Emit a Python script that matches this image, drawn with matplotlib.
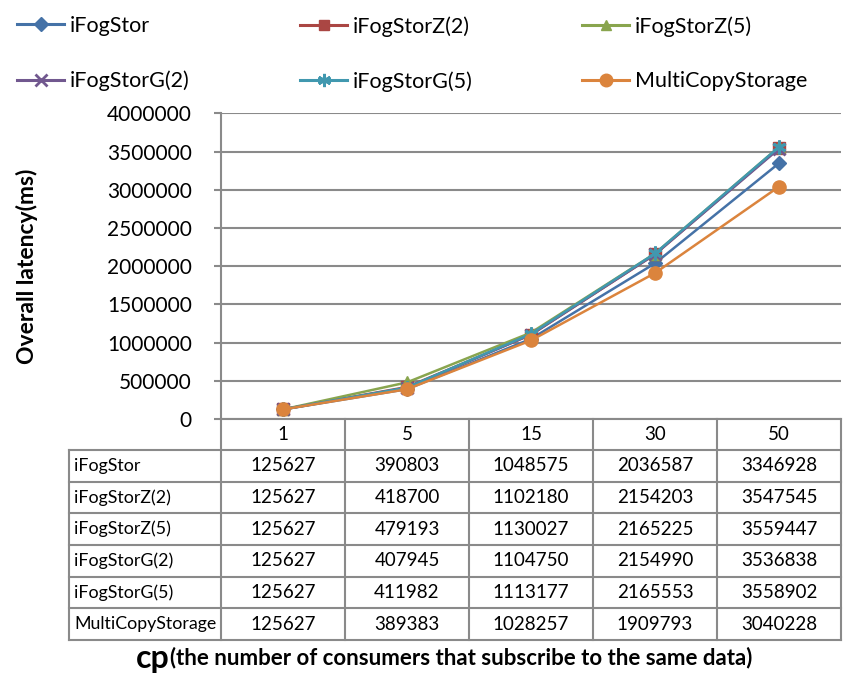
import matplotlib.pyplot as plt
from matplotlib.lines import Line2D

# === DATA ===
cp_values = ['1', '5', '15', '30', '50']
series_names = ['iFogStor', 'iFogStorZ(2)', 'iFogStorZ(5)',
                'iFogStorG(2)', 'iFogStorG(5)', 'MultiCopyStorage']
ifogstor = [125627, 390803, 1048575, 2036587, 3346928]
ifogstor_z2 = [125627, 418700, 1102180, 2154203, 3547545]
ifogstor_z5 = [125627, 479193, 1130027, 2165225, 3559447]
ifogstor_g2 = [125627, 407945, 1104750, 2154990, 3536838]
ifogstor_g5 = [125627, 411982, 1113177, 2165553, 3558902]
multicopy = [125627, 389383, 1028257, 1909793, 3040228]
y_ticks = [0, 500000, 1000000, 1500000, 2000000, 2500000, 3000000, 3500000, 4000000]

all_series = [ifogstor, ifogstor_z2, ifogstor_z5, ifogstor_g2, ifogstor_g5, multicopy]

# === STYLE ===
colors = ['#4572A7', '#AA4643', '#89A54E', '#71588F', '#4198AF', '#DB843D']
markers = ['D', 's', '^', 'x', (6, 2, 0), 'o']
msizes = [7, 8, 8, 9, 10, 9.5]
grid_color = '#8a8a8a'
plt.rcParams['font.family'] = ['Lato', 'DejaVu Sans']

W, H = 843, 674
fig = plt.figure(figsize=(W / 100, H / 100), dpi=100)

def px_axes(x0, y0, x1, y1):
    # axes placed by pixel box (top-left origin)
    return fig.add_axes([x0 / W, 1 - y1 / H, (x1 - x0) / W, (y1 - y0) / H])

plot_left, plot_right, plot_top, plot_bottom = 221, 841, 113.3, 419
ax = px_axes(plot_left, plot_top, plot_right, plot_bottom)

x = list(range(len(cp_values)))
handles = []
for vals, name, c, m, ms in zip(all_series, series_names, colors, markers, msizes):
    mew = 2 if m in ('x', (6, 2, 0)) else 1
    h, = ax.plot(x, vals, color=c, lw=1.8, marker=m, markersize=ms,
                 markeredgewidth=mew, label=name, clip_on=False, zorder=3)
    handles.append(h)

ax.set_xlim(-0.5, len(cp_values) - 0.5)
ax.set_ylim(0, 4000000)
ax.set_yticks(y_ticks)
ax.set_yticklabels([str(v) for v in y_ticks], fontsize=15)
ax.set_xticks([])
ax.yaxis.grid(True, color=grid_color, lw=1.5)
ax.set_axisbelow(True)
for s in ['top', 'right', 'bottom']:
    ax.spines[s].set_visible(False)
ax.spines['left'].set_color(grid_color)
ax.spines['left'].set_linewidth(1.5)
ax.tick_params(axis='y', direction='out', length=5, width=1.5, color=grid_color, pad=16)
ax.set_ylabel('Overall latency(ms)', fontsize=16.5, fontweight='bold', labelpad=50)

# === DATA TABLE ===
label_left = 69
table_bottom = 640
header_h = 450 - plot_bottom
row_h = (table_bottom - 450) / len(series_names)
col_w = (plot_right - plot_left) / len(cp_values)

tax = px_axes(0, 0, W, H)
tax.set_xlim(0, W)
tax.set_ylim(H, 0)
tax.axis('off')

line_kw = dict(color=grid_color, lw=1.5)
# bottom of axis row
tax.plot([plot_left, plot_right], [plot_bottom, plot_bottom], **line_kw)
# horizontal lines of data rows
for i in range(len(series_names) + 1):
    yy = 450 + i * row_h
    tax.plot([label_left, plot_right], [yy, yy], **line_kw)
# vertical lines
tax.plot([label_left, label_left], [450, table_bottom], **line_kw)
for j in range(len(cp_values) + 1):
    xx = plot_left + j * col_w
    tax.plot([xx, xx], [plot_bottom, table_bottom], **line_kw)

for j, lab in enumerate(cp_values):
    tax.text(plot_left + (j + 0.5) * col_w, plot_bottom + header_h / 2, lab,
             ha='center', va='center', fontsize=13.5)
for i, (name, vals) in enumerate(zip(series_names, all_series)):
    yc = 450 + (i + 0.5) * row_h
    tax.text(label_left + 5, yc, name, ha='left', va='center', fontsize=12.8)
    for j, v in enumerate(vals):
        tax.text(plot_left + (j + 0.5) * col_w, yc, str(v),
                 ha='center', va='center', fontsize=13.5)

# x axis title: large "cp" followed by the description
t1 = tax.text(136, 668, 'cp', fontsize=23, fontweight='bold', ha='left', va='baseline')
tax.annotate('(the number of consumers that subscribe to the same data)',
             xy=(1, 0), xycoords=t1, xytext=(0, 3.5), textcoords='offset points',
             fontsize=16, fontweight='bold', ha='left', va='bottom')

# === LEGEND ===
legend_handles = [Line2D([0], [0], color=h.get_color(), lw=2.2, marker=h.get_marker(),
                         markersize=h.get_markersize() * 0.95,
                         markeredgewidth=h.get_markeredgewidth())
                  for h in handles]
# three legend columns, each holding two entries (row-wise order)
col_x = [17, 300, 582]
for k, cx in enumerate(col_x):
    idx = [k, k + 3]
    fig.legend([legend_handles[i] for i in idx], [series_names[i] for i in idx],
               loc='upper left', bbox_to_anchor=(cx / W, 1 - 16 / H),
               frameon=False, fontsize=15.5, handlelength=2.2,
               handletextpad=0.25, labelspacing=1.6, borderaxespad=0,
               borderpad=0)

fig.savefig('out.png', dpi=100)
